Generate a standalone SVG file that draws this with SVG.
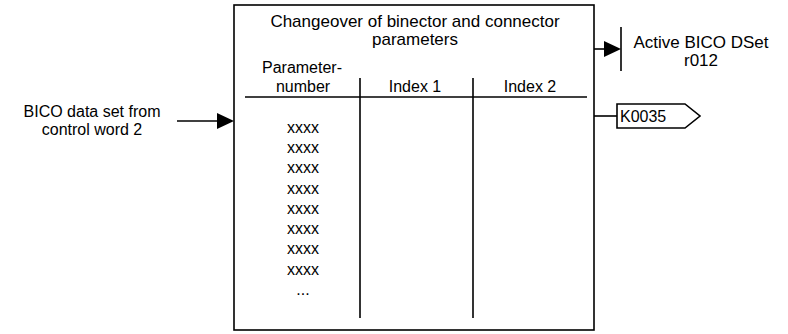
<svg xmlns="http://www.w3.org/2000/svg" width="788" height="334" viewBox="0 0 788 334">
<style>
text{font-family:"Liberation Sans",Arial,sans-serif;font-size:16px;fill:#000}
.c{text-anchor:middle}
.big{font-size:17px}
.ln{stroke:#000;stroke-width:1.6;fill:none}
.ah{fill:#000;stroke:none}
</style>
<g id="inputLabel">
<text class="c" x="92" y="117">BICO data set from</text>
<text class="c" x="92" y="135">control word 2</text>
</g>
<g id="mainBlock">
<rect class="ln" x="234" y="5" width="360" height="325" fill="#fff"/>
<text class="c big" x="415" y="27">Changeover of binector and connector</text>
<text class="c big" x="415" y="45">parameters</text>
<text class="c" x="302" y="73">Parameter-</text>
<text class="c" x="303" y="92">number</text>
<text class="c" x="415" y="92">Index 1</text>
<text class="c" x="530" y="92">Index 2</text>
<line class="ln" x1="245" y1="97" x2="587" y2="97"/>
<line class="ln" x1="360" y1="78" x2="360" y2="318"/>
<line class="ln" x1="473" y1="78" x2="473" y2="318"/>
<text class="c" x="303" y="133">xxxx</text>
<text class="c" x="303" y="153">xxxx</text>
<text class="c" x="303" y="173">xxxx</text>
<text class="c" x="303" y="193.5">xxxx</text>
<text class="c" x="303" y="214">xxxx</text>
<text class="c" x="303" y="234">xxxx</text>
<text class="c" x="303" y="254">xxxx</text>
<text class="c" x="303" y="274.5">xxxx</text>
<text class="c" x="303" y="295">...</text>
</g>
<g id="activeBico">
<line class="ln" x1="621" y1="27" x2="621" y2="71"/>
<text class="c big" x="701" y="48">Active BICO DSet</text>
<text class="c big" x="701" y="66">r012</text>
</g>
<g id="k0035">
<polygon class="ln" points="617,104 685,104 700,116 685,128 617,128" fill="#fff"/>
<text x="620" y="122">K0035</text>
</g>
<g id="connectors">
<line class="ln" x1="177" y1="121" x2="220" y2="121"/>
<polygon class="ah" points="217,113 234,121 217,129"/>
<line class="ln" x1="594" y1="49" x2="607" y2="49"/>
<polygon class="ah" points="604,41 621,49 604,57"/>
<line class="ln" x1="594" y1="116" x2="617" y2="116"/>
</g>
</svg>
